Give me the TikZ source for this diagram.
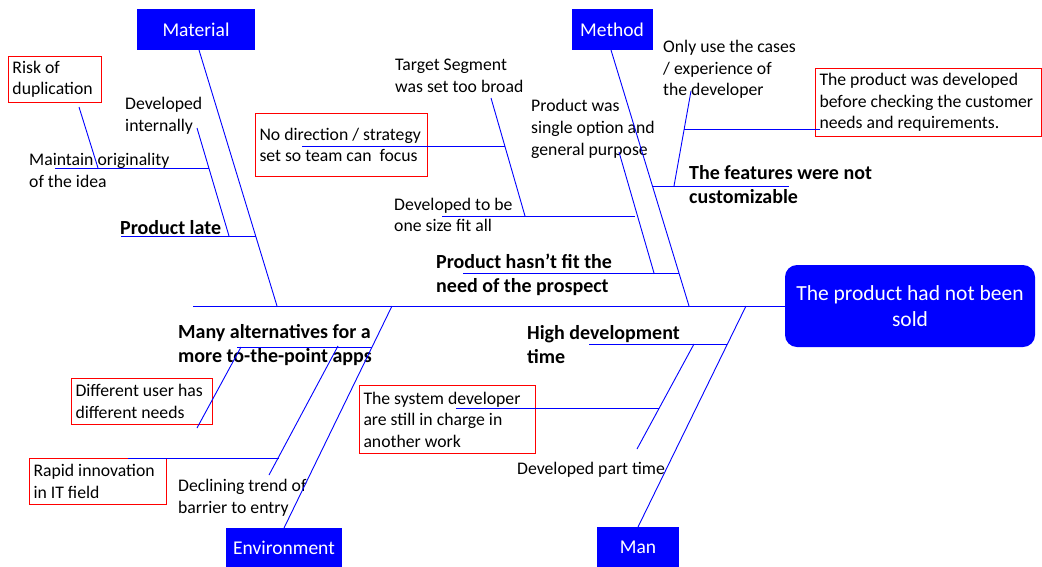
\documentclass[tikz,border=0pt]{standalone}
\usepackage{fontspec}
\setmainfont{Carlito}
\begin{document}
\begin{tikzpicture}[x=1pt,y=-1pt,
  bone/.style={draw=blue,line width=0.9pt},
  lbl/.style={font=\fontsize{17.7}{21.7}\selectfont,align=flush left,inner sep=0pt,anchor=west},
  blbl/.style={font=\fontsize{20}{24}\selectfont\bfseries,align=flush left,inner sep=0pt,anchor=west},
  cat/.style={fill=blue,text=white,font=\fontsize{19.5}{24}\selectfont,inner sep=0pt},
  redbox/.style={draw=red,line width=1pt,font=\fontsize{17.7}{21.5}\selectfont,align=flush left,
    inner xsep=4pt,inner ysep=1pt,anchor=north west},
  effect/.style={fill=blue,text=white,rounded corners=12pt,align=center,
    font=\fontsize{21.5}{25.5}\selectfont,inner sep=0pt}
]
\useasboundingbox (0,0) rectangle (1042,566);

% category boxes
\node[cat,minimum width=118,minimum height=41] (mat) at (196,29.5) {Material};
\node[cat,minimum width=81,minimum height=41] (met) at (612,29.5) {Method};
\node[cat,minimum width=116,minimum height=40] (env) at (284,548) {Environment};
\node[cat,minimum width=82,minimum height=40] (man) at (638,547) {Man};
\node[effect,minimum width=250,minimum height=82] (eff) at (910,306) {The product had not been\\sold};

% red boxes
\node[redbox,text width=85,minimum height=46] (risk) at (8,56) {Risk of\\duplication};
\node[redbox,text width=164,minimum height=63] (nodir) at (255,113) {No direction / strategy\\set so team can\ \ focus};
\node[redbox,text width=218,minimum height=68] (proddev) at (815,68) {The product was developed\\before checking the customer\\needs and requirements.};
\node[redbox,text width=133,minimum height=46] (diffuser) at (71,378) {Different user has\\different needs};
\node[redbox,text width=129,minimum height=46] (rapid) at (29,458) {Rapid innovation\\in IT field};
\node[redbox,text width=168,minimum height=68] (sysdev) at (359,385) {The system developer\\are still in charge in\\another work};

% labels
\node[lbl] (devint) at (125,115.5) {Developed\\internally};
\node[lbl] (orig) at (29,170.5) {Maintain originality\\of the idea};
\node[blbl] (late) at (120,228) {Product late};
\node[lbl] (target) at (395,75.5) {Target Segment\\was set too broad};
\node[lbl] (single) at (531,129) {Product was\\single option and\\general purpose};
\node[lbl] (onesize) at (394,215) {Developed to be\\one size fit all};
\node[blbl] (fit) at (436,275) {Product hasn’t fit the\\need of the prospect};
\node[lbl] (onlyuse) at (663,69.5) {Only use the cases\\/ experience of\\the developer};
\node[blbl] (feat) at (689,185) {The features were not\\customizable};
\node[blbl] (alt) at (178,345) {Many alternatives for a\\more to-the-point apps};
\node[lbl] (decl) at (178,497.5) {Declining trend of\\barrier to entry};
\node[blbl] (high) at (527,345) {High development\\time};
\node[lbl] (part) at (517,470) {Developed part time};

% coordinates
\coordinate (spL) at (193,306);
\coordinate (m0) at (199,50);   \coordinate (m1) at (277,306);
\coordinate (ml0) at (121,236); \coordinate (ml1) at (255.5,236);
\coordinate (ms0) at (197,128); \coordinate (ms1) at (229,236);
\coordinate (mo0) at (55,168);  \coordinate (mo1) at (209,168);
\coordinate (mr0) at (79,107);  \coordinate (mr1) at (98,168);
\coordinate (t0) at (611,50);   \coordinate (t1) at (689,306);
\coordinate (tf0) at (463,273); \coordinate (tf1) at (679,273);
\coordinate (ts0) at (619,152); \coordinate (ts1) at (654,273);
\coordinate (to0) at (442,216); \coordinate (to1) at (635,216);
\coordinate (tt0) at (491,98);  \coordinate (tt1) at (525,216);
\coordinate (tn0) at (302,146); \coordinate (tn1) at (505,146);
\coordinate (tc0) at (652,186); \coordinate (tc1) at (789,186);
\coordinate (tu0) at (691,91);  \coordinate (tu1) at (674,186);
\coordinate (tp0) at (684,129); \coordinate (tp1) at (820,129);
\coordinate (e0) at (392,306);  \coordinate (e1) at (284,528);
\coordinate (ea0) at (237,347); \coordinate (ea1) at (372,347);
\coordinate (ed0) at (241,347); \coordinate (ed1) at (197,428);
\coordinate (ec0) at (338,346); \coordinate (ec1) at (269,475);
\coordinate (er0) at (128,458); \coordinate (er1) at (279,458);
\coordinate (n0) at (746,306);  \coordinate (n1) at (638,527);
\coordinate (nh0) at (589,344); \coordinate (nh1) at (727,344);
\coordinate (np0) at (694,344); \coordinate (np1) at (637,449);
\coordinate (ns0) at (456,408); \coordinate (ns1) at (659,408);

% spine and bones
\draw[bone] (spL) -- (eff.west);
\draw[bone] (m0) -- (m1);
\draw[bone] (ml0) -- (ml1);
\draw[bone] (ms0) -- (ms1);
\draw[bone] (mo0) -- (mo1);
\draw[bone] (mr0) -- (mr1);
\draw[bone] (t0) -- (t1);
\draw[bone] (tf0) -- (tf1);
\draw[bone] (ts0) -- (ts1);
\draw[bone] (to0) -- (to1);
\draw[bone] (tt0) -- (tt1);
\draw[bone] (tn0) -- (tn1);
\draw[bone] (tc0) -- (tc1);
\draw[bone] (tu0) -- (tu1);
\draw[bone] (tp0) -- (tp1);
\draw[bone] (e0) -- (e1);
\draw[bone] (ea0) -- (ea1);
\draw[bone] (ed0) -- (ed1);
\draw[bone] (ec0) -- (ec1);
\draw[bone] (er0) -- (er1);
\draw[bone] (n0) -- (n1);
\draw[bone] (nh0) -- (nh1);
\draw[bone] (np0) -- (np1);
\draw[bone] (ns0) -- (ns1);
\end{tikzpicture}
\end{document}
